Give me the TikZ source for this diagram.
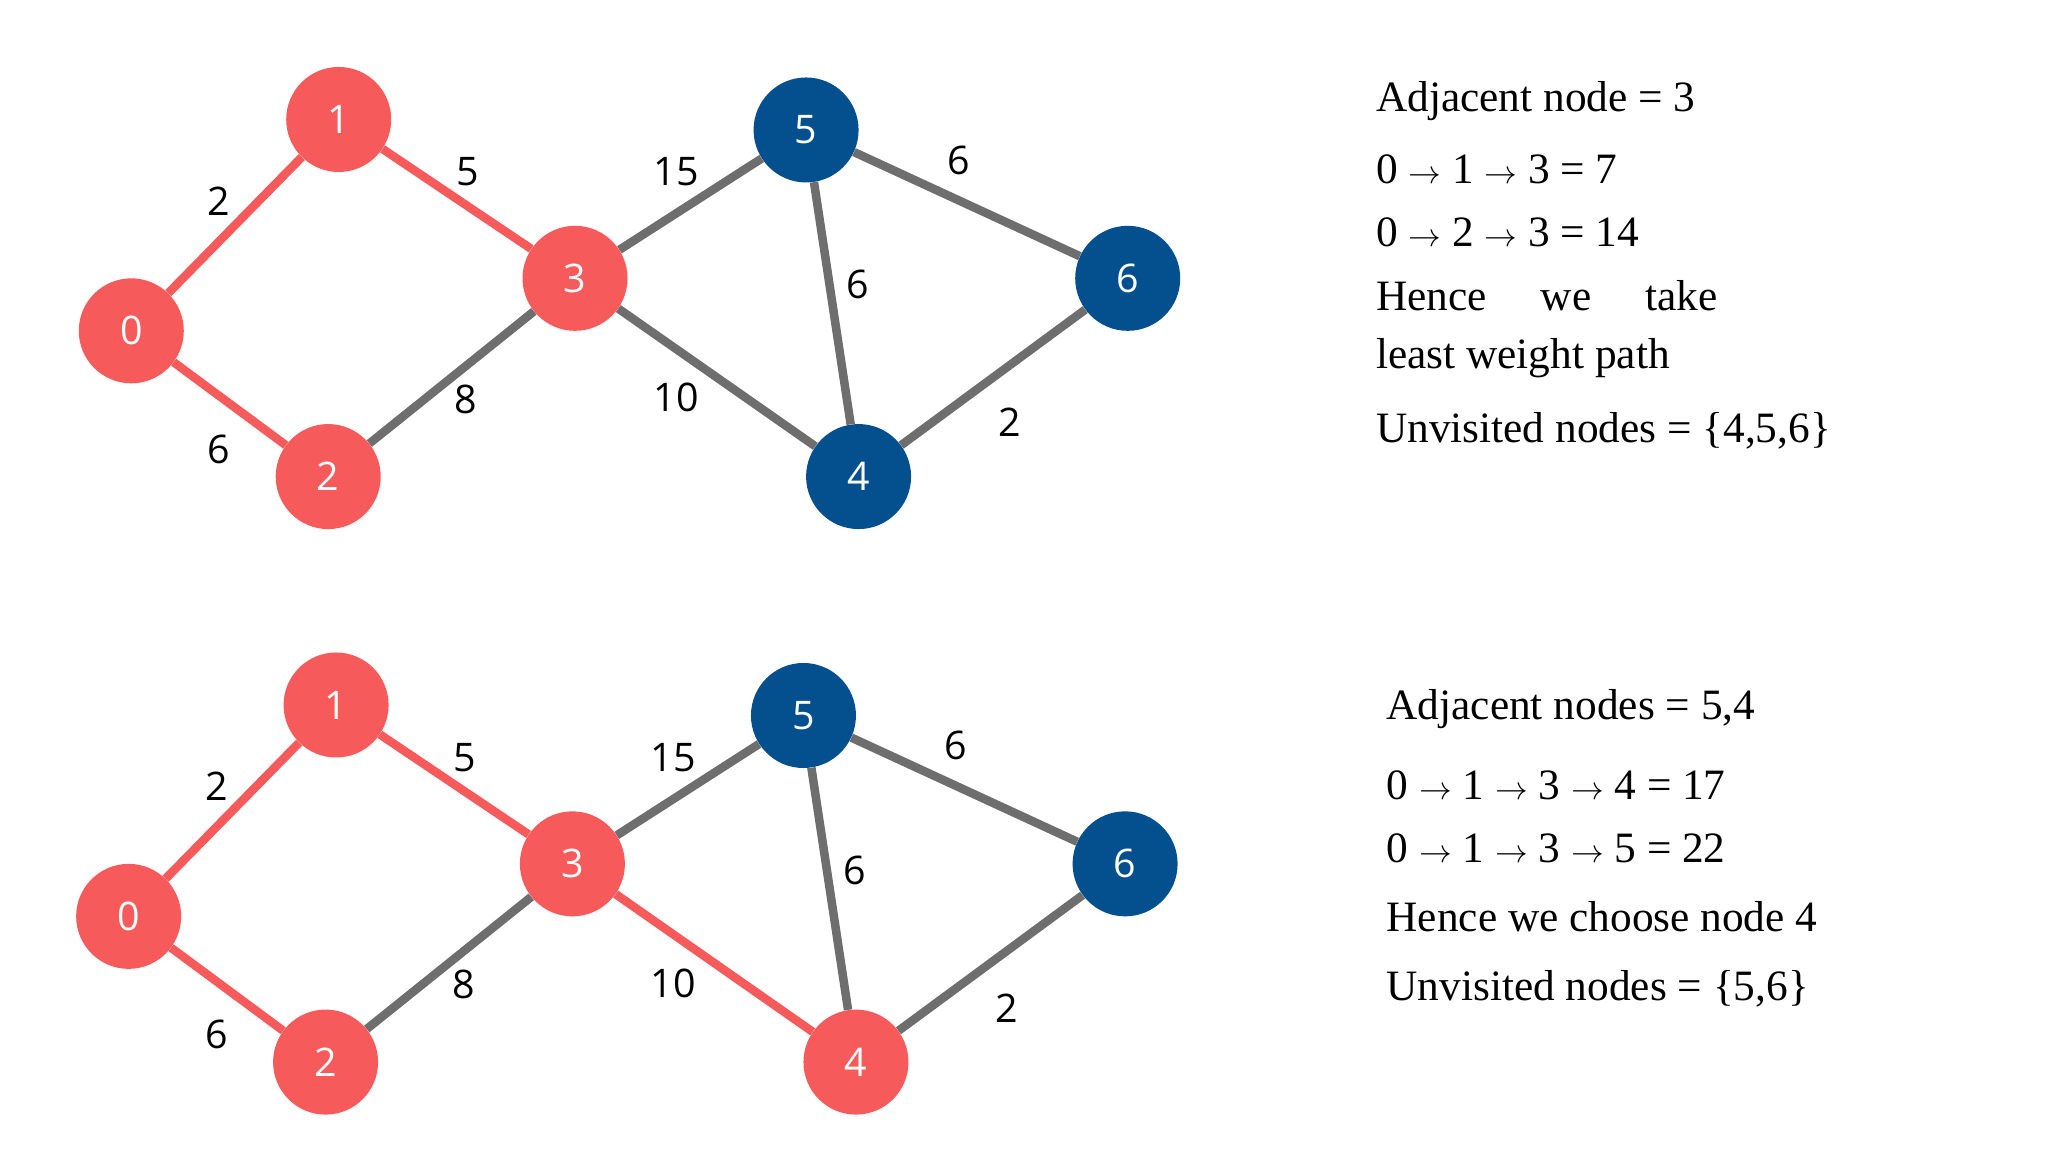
\documentclass[tikz,border=0pt]{standalone}
\usepackage{fontspec}
\newfontfamily\lab{Open Sans}
\newfontfamily\txf{Liberation Serif}
\definecolor{rd}{HTML}{F75A5A}
\definecolor{bl}{HTML}{04508F}
\definecolor{gr}{HTML}{6E6E6E}
\begin{document}
\begin{tikzpicture}[x=1pt,y=-1pt,
 vr/.style={circle,fill=rd,minimum size=80pt,inner sep=0pt,text=white,font=\lab\fontsize{30}{30}\selectfont},
 vb/.style={vr,fill=bl},
 er/.style={rd,line width=6.5pt},
 eg/.style={gr,line width=6.5pt},
 wl/.style={font=\lab\fontsize{30}{30}\selectfont},
 tx/.style={anchor=west,inner sep=0pt,font=\txf\fontsize{33}{33}\selectfont}]
\useasboundingbox (0,0) rectangle (1560,878);
\node[vr] (a0) at (100,252) {0};
\node[vr] (a1) at (258,91) {1};
\node[vr] (a2) at (250,363) {2};
\node[vr] (a3) at (438,212) {3};
\node[vb] (a4) at (654,363) {4};
\node[vb] (a5) at (614,99) {5};
\node[vb] (a6) at (859,212) {6};
\node[vr] (b0) at (98,698) {0};
\node[vr] (b1) at (256,537) {1};
\node[vr] (b2) at (248,809) {2};
\node[vr] (b3) at (436,658) {3};
\node[vr] (b4) at (652,809) {4};
\node[vb] (b5) at (612,545) {5};
\node[vb] (b6) at (857,658) {6};
\draw[er] (a0) -- (a1); \draw[er] (a0) -- (a2); \draw[er] (a1) -- (a3);
\draw[eg] (a2) -- (a3); \draw[eg] (a3) -- (a5); \draw[eg] (a3) -- (a4);
\draw[eg] (a5) -- (a4); \draw[eg] (a5) -- (a6); \draw[eg] (a4) -- (a6);
\draw[er] (b0) -- (b1); \draw[er] (b0) -- (b2); \draw[er] (b1) -- (b3);
\draw[eg] (b2) -- (b3); \draw[eg] (b3) -- (b5); \draw[er] (b3) -- (b4);
\draw[eg] (b5) -- (b4); \draw[eg] (b5) -- (b6); \draw[eg] (b4) -- (b6);
\foreach \s/\dx/\dy in {t/0/0,u/-2/446}{
\node[wl] (\s w1) at (167+\dx,153+\dy) {2};
\node[wl] (\s w2) at (356+\dx,131+\dy) {5};
\node[wl] (\s w3) at (167+\dx,342+\dy) {6};
\node[wl] (\s w4) at (355+\dx,304+\dy) {8};
\node[wl] (\s w5) at (515+\dx,131+\dy) {15};
\node[wl] (\s w6) at (515+\dx,303+\dy) {10};
\node[wl] (\s w7) at (730+\dx,122+\dy) {6};
\node[wl] (\s w8) at (653+\dx,217+\dy) {6};
\node[wl] (\s w9) at (769+\dx,322+\dy) {2};
}
\node[tx] (t1) at (1048,77) {Adjacent node = 3};
\node[tx] (t2) at (1048,129) {0 $\rightarrow$ 1 $\rightarrow$ 3 = 7};
\node[tx] (t3) at (1048,177) {0 $\rightarrow$ 2 $\rightarrow$ 3 = 14};
\node[tx] (t4) at (1048,225) {Hence\quad\ we\quad\ take};
\node[tx] (t5) at (1048,273) {least weight path};
\node[tx] (t6) at (1048,328) {Unvisited nodes = \{4,5,6\}};
\node[tx] (s1) at (1056,540) {Adjacent nodes = 5,4};
\node[tx] (s2) at (1056,598) {0 $\rightarrow$ 1 $\rightarrow$ 3 $\rightarrow$ 4 = 17};
\node[tx] (s3) at (1056,646) {0 $\rightarrow$ 1 $\rightarrow$ 3 $\rightarrow$ 5 = 22};
\node[tx] (s4) at (1056,698) {Hence we choose node 4};
\node[tx] (s5) at (1056,753) {Unvisited nodes = \{5,6\}};
\end{tikzpicture}
\end{document}
